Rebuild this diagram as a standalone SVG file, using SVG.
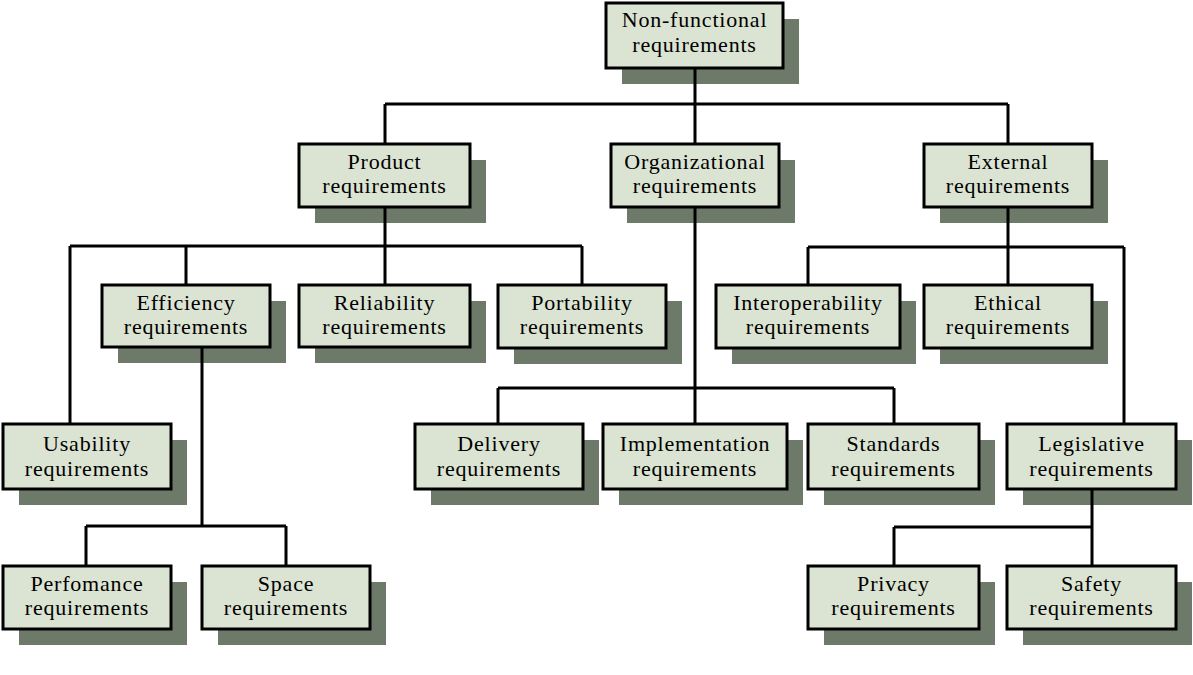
<svg xmlns="http://www.w3.org/2000/svg" width="1193" height="675" viewBox="0 0 1193 675">
<style>
.sh{fill:#6e7a69}
.bx{fill:#dbe4d2;stroke:#000;stroke-width:3}
.t{font-family:"Liberation Serif","Times New Roman",serif;font-size:22px;letter-spacing:0.8px;fill:#000;text-anchor:middle}
.c{fill:none;stroke:#000;stroke-width:3}
</style>
<rect width="1193" height="675" fill="#fff"/>
<g id="shadows">
<rect class="sh" x="622" y="19" width="177" height="65"/>
<rect class="sh" x="315" y="160" width="171" height="63"/>
<rect class="sh" x="627" y="160" width="168" height="63"/>
<rect class="sh" x="940" y="160" width="168" height="63"/>
<rect class="sh" x="118" y="301" width="168" height="62"/>
<rect class="sh" x="315" y="301" width="171" height="62"/>
<rect class="sh" x="514" y="301" width="168" height="63"/>
<rect class="sh" x="732" y="301" width="184" height="63"/>
<rect class="sh" x="940" y="301" width="168" height="63"/>
<rect class="sh" x="19" y="440" width="168" height="65"/>
<rect class="sh" x="431" y="440" width="168" height="65"/>
<rect class="sh" x="619" y="440" width="184" height="65"/>
<rect class="sh" x="824" y="440" width="171" height="65"/>
<rect class="sh" x="1023" y="440" width="169" height="65"/>
<rect class="sh" x="19" y="582" width="168" height="63"/>
<rect class="sh" x="218" y="582" width="168" height="63"/>
<rect class="sh" x="824" y="582" width="171" height="63"/>
<rect class="sh" x="1023" y="582" width="169" height="63"/>
</g>
<g id="connectors">
<path class="c" d="M695,68V104M385,104H1008M385,104V144M695,104V144M1008,104V144"/>
<path class="c" d="M385,207V285M70,246H582M186,246V285M582,246V285M70,246V424"/>
<path class="c" d="M202,347V526M86,526H286M86,526V566M286,526V566"/>
<path class="c" d="M695,207V424M498,388H894M498,388V424M894,388V424"/>
<path class="c" d="M1008,207V285M808,247H1124M808,247V285M1124,247V424"/>
<path class="c" d="M1092,489V566M894,527H1092M894,527V566"/>
</g>
<g id="n-nonfunctional"><rect class="bx" x="606" y="3" width="177" height="65"/><text class="t" x="694.5" y="27">Non-functional</text><text class="t" x="694.5" y="52">requirements</text></g>
<g id="n-product"><rect class="bx" x="299" y="144" width="171" height="63"/><text class="t" x="384.5" y="169">Product</text><text class="t" x="384.5" y="193">requirements</text></g>
<g id="n-organizational"><rect class="bx" x="611" y="144" width="168" height="63"/><text class="t" x="695" y="169">Organizational</text><text class="t" x="695" y="193">requirements</text></g>
<g id="n-external"><rect class="bx" x="924" y="144" width="168" height="63"/><text class="t" x="1008" y="169">External</text><text class="t" x="1008" y="193">requirements</text></g>
<g id="n-efficiency"><rect class="bx" x="102" y="285" width="168" height="62"/><text class="t" x="186" y="310">Efficiency</text><text class="t" x="186" y="334">requirements</text></g>
<g id="n-reliability"><rect class="bx" x="299" y="285" width="171" height="62"/><text class="t" x="384.5" y="310">Reliability</text><text class="t" x="384.5" y="334">requirements</text></g>
<g id="n-portability"><rect class="bx" x="498" y="285" width="168" height="63"/><text class="t" x="582" y="310">Portability</text><text class="t" x="582" y="334">requirements</text></g>
<g id="n-interoperability"><rect class="bx" x="716" y="285" width="184" height="63"/><text class="t" x="808" y="310">Interoperability</text><text class="t" x="808" y="334">requirements</text></g>
<g id="n-ethical"><rect class="bx" x="924" y="285" width="168" height="63"/><text class="t" x="1008" y="310">Ethical</text><text class="t" x="1008" y="334">requirements</text></g>
<g id="n-usability"><rect class="bx" x="3" y="424" width="168" height="65"/><text class="t" x="87" y="451">Usability</text><text class="t" x="87" y="476">requirements</text></g>
<g id="n-delivery"><rect class="bx" x="415" y="424" width="168" height="65"/><text class="t" x="499" y="451">Delivery</text><text class="t" x="499" y="476">requirements</text></g>
<g id="n-implementation"><rect class="bx" x="603" y="424" width="184" height="65"/><text class="t" x="695" y="451">Implementation</text><text class="t" x="695" y="476">requirements</text></g>
<g id="n-standards"><rect class="bx" x="808" y="424" width="171" height="65"/><text class="t" x="893.5" y="451">Standards</text><text class="t" x="893.5" y="476">requirements</text></g>
<g id="n-legislative"><rect class="bx" x="1007" y="424" width="169" height="65"/><text class="t" x="1091.5" y="451">Legislative</text><text class="t" x="1091.5" y="476">requirements</text></g>
<g id="n-perfomance"><rect class="bx" x="3" y="566" width="168" height="63"/><text class="t" x="87" y="591">Perfomance</text><text class="t" x="87" y="615">requirements</text></g>
<g id="n-space"><rect class="bx" x="202" y="566" width="168" height="63"/><text class="t" x="286" y="591">Space</text><text class="t" x="286" y="615">requirements</text></g>
<g id="n-privacy"><rect class="bx" x="808" y="566" width="171" height="63"/><text class="t" x="893.5" y="591">Privacy</text><text class="t" x="893.5" y="615">requirements</text></g>
<g id="n-safety"><rect class="bx" x="1007" y="566" width="169" height="63"/><text class="t" x="1091.5" y="591">Safety</text><text class="t" x="1091.5" y="615">requirements</text></g>
</svg>
